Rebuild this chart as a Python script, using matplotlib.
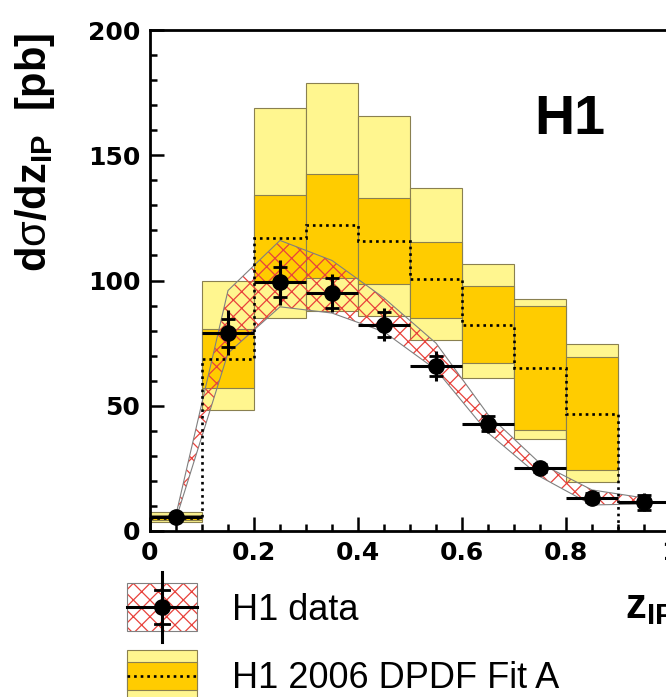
import numpy as np
import matplotlib.pyplot as plt
from matplotlib.patches import Rectangle
from matplotlib.ticker import MultipleLocator, FuncFormatter

plt.rcParams['hatch.linewidth'] = 0.9
plt.rcParams['mathtext.fontset'] = 'custom'
plt.rcParams['mathtext.rm'] = 'Liberation Sans'
plt.rcParams['mathtext.bf'] = 'Liberation Sans:bold'

# z_IP bins of the model histogram
bin_edges = [0.0, 0.1, 0.2, 0.3, 0.4, 0.5, 0.6, 0.7, 0.8, 0.9]
bin_centers = [0.05, 0.15, 0.25, 0.35, 0.45, 0.55, 0.65, 0.75, 0.85]

# H1 2006 DPDF Fit A: outer / inner uncertainty and central value
fit_lo_outer = [3.5, 48.4, 85.0, 87.7, 85.7, 76.4, 61.0, 36.7, 19.7]
fit_lo_inner = [4.2, 57.0, 100.0, 101.0, 98.5, 85.0, 67.1, 40.4, 24.4]
fit_central = [5.0, 68.8, 116.8, 122.1, 115.7, 100.7, 82.4, 65.1, 46.7]
fit_hi_inner = [6.3, 80.7, 134.1, 142.7, 132.8, 115.5, 97.7, 90.0, 69.5]
fit_hi_outer = [7.5, 100.0, 168.8, 178.8, 165.7, 136.8, 106.4, 92.8, 74.8]

# H1 data
x_data = [0.05, 0.15, 0.25, 0.35, 0.45, 0.55, 0.65, 0.75, 0.85, 0.95]
y_data = [5.6, 79.2, 99.3, 95.0, 82.4, 65.7, 42.8, 25.1, 13.3, 11.5]
err_stat = [0.6, 5.6, 5.9, 6.0, 5.0, 4.0, 3.0, 1.5, 1.8, 3.0]
err_tot = [1.0, 9.0, 9.0, 7.7, 6.7, 6.0, 3.6, 2.0, 2.5, 3.7]

# hatched band around the data
band_lo = [4.8, 71.0, 89.5, 87.0, 79.5, 64.4, 39.2, 21.7, 10.4, 10.8]
band_hi = [6.5, 96.0, 116.0, 108.0, 93.0, 75.0, 46.5, 27.0, 16.4, 13.2]

LIGHT = '#fff68f'
DARK = '#ffcc00'
EDGE = '#8a8050'
HATCH = '#e8423c'

W, H = 666, 697


def px(x0, y0, x1, y1):
    return [x0 / W, 1 - y1 / H, (x1 - x0) / W, (y1 - y0) / H]


fig = plt.figure(figsize=(W / 100, H / 100), dpi=100)
ax = fig.add_axes(px(150, 30, 670, 531))

# model boxes
ax.bar(bin_centers, np.subtract(fit_hi_outer, fit_lo_outer), width=0.1,
       bottom=fit_lo_outer, color=LIGHT, edgecolor=EDGE, linewidth=0.8, zorder=1)
ax.bar(bin_centers, np.subtract(fit_hi_inner, fit_lo_inner), width=0.1,
       bottom=fit_lo_inner, color=DARK, edgecolor=EDGE, linewidth=0.8, zorder=1.1)
ax.stairs(fit_central, bin_edges, baseline=0, color='k', linestyle=(0, (1, 1.5)),
          linewidth=1.9, zorder=3)

# hatched band
ax.fill_between(x_data, band_lo, band_hi, facecolor='none', edgecolor=HATCH,
                hatch='xx', linewidth=0, zorder=2)
ax.fill(np.r_[x_data, x_data[::-1]], np.r_[band_hi, band_lo[::-1]], fill=False,
        edgecolor='#808080', linewidth=0.8, zorder=2.1)

# data points
ax.errorbar(x_data, y_data, xerr=0.05, yerr=err_tot, fmt='o', color='k', ms=11,
            elinewidth=2.2, capsize=0, zorder=4)
ax.errorbar(x_data, y_data, yerr=err_stat, fmt='none', ecolor='k', elinewidth=2.2,
            capsize=5, capthick=2, zorder=4)

ax.set_xlim(0, 1)
ax.set_ylim(0, 200)
ax.xaxis.set_major_locator(MultipleLocator(0.2))
ax.xaxis.set_minor_locator(MultipleLocator(0.05))
ax.yaxis.set_major_locator(MultipleLocator(50))
ax.yaxis.set_minor_locator(MultipleLocator(10))
ax.xaxis.set_major_formatter(FuncFormatter(lambda v, p: '%g' % round(v, 2)))
ax.tick_params(which='both', direction='in', top=False, right=False, width=1.8)
ax.tick_params(which='major', length=10)
ax.tick_params(which='minor', length=5)
ax.tick_params(axis='y', pad=7)
ax.tick_params(axis='x', pad=7)
for lab in ax.get_xticklabels() + ax.get_yticklabels():
    lab.set_fontfamily('DejaVu Sans')
    lab.set_fontweight('bold')
    lab.set_fontsize(18)
for s in ax.spines.values():
    s.set_linewidth(2)

fig.text(570 / W, 1 - 120 / H, 'H1', fontsize=40, fontweight='bold',
         family='Liberation Sans', ha='center', va='center')
fig.text(35 / W, 1 - 33 / H, r'd$\mathrm{\sigma}$/dz$_{\mathbf{IP}}$  [pb]',
         rotation=90, fontsize=30, fontweight='bold', family='Liberation Sans',
         ha='center', va='top')
fig.text(625 / W, 1 - 618 / H, r'z$_{\mathbf{IP}}$', fontsize=30,
         fontweight='bold', family='Liberation Sans', ha='left', va='baseline')

# legend drawn in pixel coordinates below the axes
lax = fig.add_axes(px(100, 570, 666, 697))
lax.set_xlim(100, 666)
lax.set_ylim(697, 570)
lax.axis('off')
lax.add_patch(Rectangle((127, 583), 70, 48, facecolor='white', edgecolor=HATCH,
                        hatch='xx', linewidth=0))
lax.add_patch(Rectangle((127, 583), 70, 48, fill=False, edgecolor='#808080',
                        linewidth=0.8))
lax.plot([127, 197], [607, 607], color='k', lw=2.2)
lax.plot([162, 162], [572, 642], color='k', lw=2.2)
lax.plot([155, 169], [590, 590], color='k', lw=2)
lax.plot([155, 169], [624, 624], color='k', lw=2)
lax.plot([162], [607], 'o', color='k', ms=11)
lax.text(232, 620, 'H1 data', fontsize=26, family='Liberation Sans', va='baseline')

lax.add_patch(Rectangle((127, 650), 70, 60, facecolor=LIGHT, edgecolor=EDGE,
                        linewidth=0.8))
lax.add_patch(Rectangle((127, 662), 70, 28, facecolor=DARK, edgecolor=EDGE,
                        linewidth=0.8))
lax.plot([127, 197], [676, 676], color='k', linestyle=(0, (1, 1.5)), lw=1.9)
lax.text(232, 688, 'H1 2006 DPDF Fit A', fontsize=26, family='Liberation Sans',
         va='baseline')

fig.savefig('out.png', dpi=100)
